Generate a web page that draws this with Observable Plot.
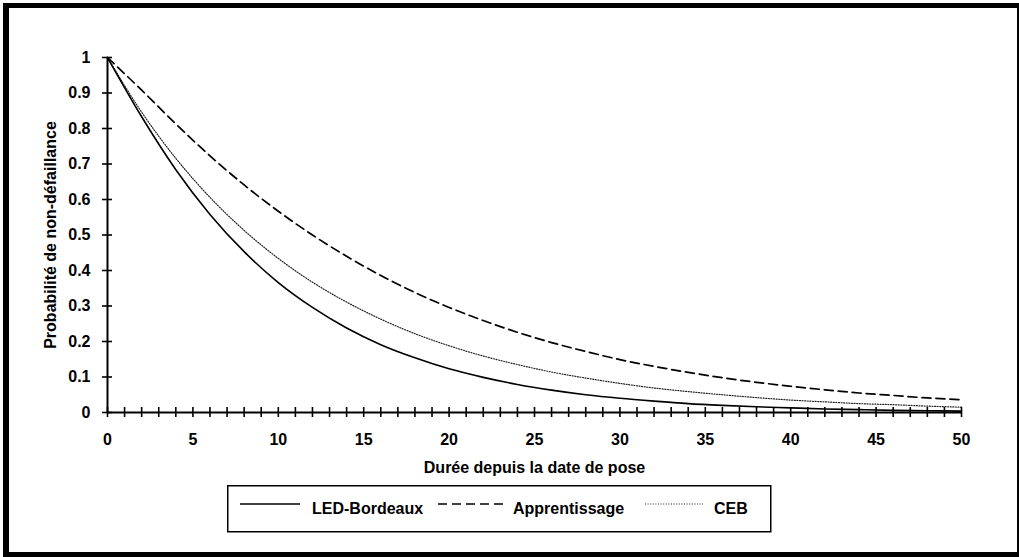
<!DOCTYPE html>
<html>
<head>
<meta charset="utf-8">
<script src="https://cdn.jsdelivr.net/npm/d3@7"></script>
<script src="https://cdn.jsdelivr.net/npm/@observablehq/plot@0.6"></script>
<style>
  html, body { margin: 0; padding: 0; background: #fff; }
  body { width: 1019px; height: 557px; overflow: hidden; position: relative; font-family: "Liberation Sans", Arial, sans-serif; }
  #chart { position: absolute; left: 0; top: 0; }
  #legend { position: absolute; left: 227px; top: 485px; }
  #frame { position: absolute; left: 3px; top: 3px; width: 1016px; height: 554px; box-sizing: border-box;
           border-style: solid; border-color: #000; border-width: 5px 2px 5px 6px; pointer-events: none; }
</style>
</head>
<body>
<div id="chart"></div>
<div id="legend"></div>
<div id="frame"></div>
<script>
// ---- data ----
const years = [0, 2, 4, 6, 8, 10, 12, 14, 16, 18, 20, 22, 24, 26, 28, 30, 32, 34, 36, 38, 40, 42, 44, 46, 48, 50];
const ledBordeaux   = [1, 0.833, 0.684, 0.558, 0.453, 0.366, 0.296, 0.238, 0.191, 0.154, 0.123, 0.099, 0.079, 0.063, 0.050, 0.040, 0.032, 0.025, 0.020, 0.016, 0.013, 0.010, 0.008, 0.006, 0.005, 0.004];
const apprentissage = [1, 0.908, 0.813, 0.723, 0.641, 0.567, 0.500, 0.440, 0.386, 0.338, 0.296, 0.259, 0.226, 0.197, 0.172, 0.149, 0.130, 0.113, 0.098, 0.085, 0.074, 0.064, 0.055, 0.048, 0.041, 0.036];
const ceb           = [1, 0.846, 0.716, 0.606, 0.513, 0.434, 0.367, 0.311, 0.263, 0.222, 0.188, 0.159, 0.135, 0.114, 0.097, 0.082, 0.069, 0.059, 0.050, 0.042, 0.035, 0.030, 0.025, 0.022, 0.018, 0.015];
const seriesNames = ["LED-Bordeaux", "Apprentissage", "CEB"];
const xTickLabels = [0, 5, 10, 15, 20, 25, 30, 35, 40, 45, 50];
const xTickMarks  = d3.range(0, 51);
const yTicks = [0, 0.1, 0.2, 0.3, 0.4, 0.5, 0.6, 0.7, 0.8, 0.9, 1];
const xLabel = "Durée depuis la date de pose";
const yLabel = "Probabilité de non-défaillance";

const rows = (vals) => years.map((x, i) => ({x, y: vals[i]}));

const chart = Plot.plot({
  width: 1019,
  height: 480,
  marginLeft: 107,
  marginRight: 58,
  marginTop: 57,
  marginBottom: 68,
  x: {domain: [0, 50], label: null},
  y: {domain: [0, 1], label: null},
  style: {fontFamily: "'Liberation Sans', Arial, sans-serif", fontSize: "16px", fontWeight: "bold", color: "#000", background: "transparent"},
  marks: [
    Plot.line(rows(apprentissage), {x: "x", y: "y", stroke: "#000", strokeWidth: 1.7, strokeDasharray: "9,5", curve: "monotone-x"}),
    Plot.line(rows(ceb), {x: "x", y: "y", stroke: "#222", strokeWidth: 1.2, strokeDasharray: "1,1.6", curve: "monotone-x"}),
    Plot.line(rows(ledBordeaux), {x: "x", y: "y", stroke: "#000", strokeWidth: 1.6, curve: "monotone-x"}),
    Plot.ruleX([0], {stroke: "#000", strokeWidth: 2}),
    Plot.ruleY([0], {stroke: "#000", strokeWidth: 2}),
    Plot.axisY(yTicks, {tickSize: 10, dx: 5, tickFormat: () => "", strokeWidth: 1.6, label: null}),
    Plot.axisY(yTicks, {tickSize: 0, tickPadding: 17, tickFormat: d => String(+d.toFixed(1)),
      label: yLabel, labelAnchor: "center", labelOffset: 63, labelArrow: "none"}),
    Plot.axisX(xTickMarks, {tickSize: 10, dy: -5, tickFormat: () => "", strokeWidth: 1.6, label: null}),
    Plot.axisX(xTickLabels, {tickSize: 0, tickPadding: 21, label: xLabel, labelAnchor: "center", labelOffset: 60, labelArrow: "none"})
  ]
});
document.getElementById("chart").appendChild(chart);

// ---- legend ----
const legendStyles = [
  {dash: null, width: 1.6, color: "#000"},
  {dash: "9,5", width: 1.7, color: "#000"},
  {dash: "1,1.6", width: 1.2, color: "#222"}
];
const swatchX = [13, 211, 418];
const swatchW = [60, 67, 58];
const textX = [85, 286, 487];
const lg = d3.select("#legend").append("svg").attr("width", 545).attr("height", 48)
  .style("font-family", "'Liberation Sans', Arial, sans-serif").style("font-weight", "bold").style("font-size", "16px");
lg.append("rect").attr("x", 0.75).attr("y", 0.75).attr("width", 543).attr("height", 46)
  .attr("fill", "none").attr("stroke", "#000").attr("stroke-width", 1.5);
seriesNames.forEach((name, i) => {
  const s = legendStyles[i];
  lg.append("line").attr("x1", swatchX[i]).attr("x2", swatchX[i] + swatchW[i]).attr("y1", 19).attr("y2", 19)
    .attr("stroke", s.color).attr("stroke-width", s.width).attr("stroke-dasharray", s.dash);
  lg.append("text").attr("x", textX[i]).attr("y", 28.5).attr("fill", "#000").text(name);
});
</script>
</body>
</html>
